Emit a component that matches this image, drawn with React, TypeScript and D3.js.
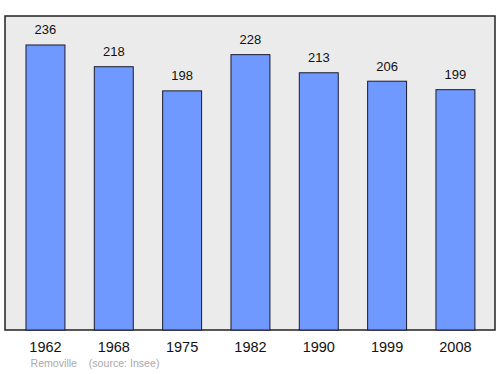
import React from "react";
import * as d3 from "d3";

const years = ["1962", "1968", "1975", "1982", "1990", "1999", "2008"];
const population = [236, 218, 198, 228, 213, 206, 199];
const sourceLabel = "Removille    (source: Insee)";

export default function App() {
  const W = 500, H = 374;
  const left = 5, right = 495, top = 16, bottom = 330;
  const x = d3.scaleBand<string>().domain(years).range([11.3, 489.6]).paddingInner(0.43).paddingOuter(0.215);
  const y = d3.scaleLinear().domain([0, 260]).range([bottom, top]);
  return (
    <svg width={W} height={H} style={{ position: "absolute", left: 0, top: 0, fontFamily: "Liberation Sans, Arial, sans-serif" }}>
      <rect x={left} y={top} width={right - left} height={bottom - top} fill="#ebebeb" stroke="#222" strokeWidth={1.5} />
      {years.map((yr, i) => (
        <g key={yr}>
          <rect x={x(yr)} y={y(population[i])} width={x.bandwidth()} height={bottom - y(population[i])} fill="#7099ff" stroke="#1a1a2e" strokeWidth={1} />
          <text x={(x(yr) ?? 0) + x.bandwidth() / 2} y={y(population[i]) - 10.5} textAnchor="middle" fontSize={13} fill="#111">{population[i]}</text>
          <text x={(x(yr) ?? 0) + x.bandwidth() / 2} y={352} textAnchor="middle" fontSize={14.5} fill="#111">{yr}</text>
        </g>
      ))}
      <text x={30.5} y={367} fontSize={10.6} fill="#aaa" style={{ whiteSpace: "pre" }}>{sourceLabel}</text>
    </svg>
  );
}
